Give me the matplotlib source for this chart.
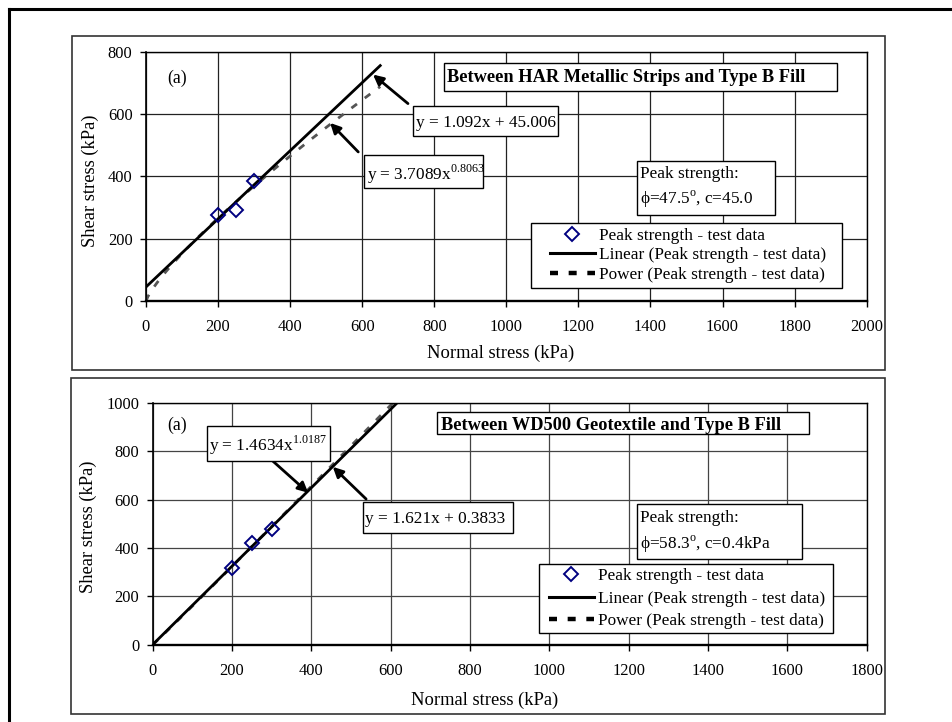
import numpy as np
import matplotlib
matplotlib.use("Agg")
import matplotlib.pyplot as plt
from matplotlib.patches import Rectangle
from matplotlib.lines import Line2D

plt.rcParams['font.family'] = ['Liberation Serif', 'DejaVu Serif']
plt.rcParams['mathtext.fontset'] = 'custom'
plt.rcParams['mathtext.rm'] = 'Liberation Serif'

W, H = 952, 722

# peak strength test data
har_normal = [200, 250, 300]
har_shear = [276, 293, 385]
wd_normal = [200, 250, 300]
wd_shear = [318, 419, 480]

# trendlines as printed on the chart
har_lin = (1.092, 45.006)     # y = a*x + b
har_pow = (3.7089, 0.8063)    # y = a*x^b
wd_lin = (1.621, 0.3833)
wd_pow = (1.4634, 1.0187)
trend_x = np.linspace(0, 650, 131)

series_labels = ['Peak strength - test data',
                 'Linear (Peak strength - test data)',
                 'Power (Peak strength - test data)']

FS = 12.4      # text size
TFS = 11.8     # tick label size
LFS = 13.3     # axis label size

fig = plt.figure(figsize=(W/100, H/100), dpi=100)


def fx(px):
    return px / W


def fy(py):
    return 1 - py / H


def box(ax, x0, y0, x1, y1):
    r = Rectangle((fx(x0), fy(y1)), (x1 - x0)/W, (y1 - y0)/H, transform=fig.transFigure,
                  fc='white', ec='black', lw=1.0, clip_on=False, zorder=4)
    ax.add_artist(r)


def note(ax, px, py, s, **kw):
    kw.setdefault('fontsize', FS)
    ax.text(fx(px), fy(py), s, transform=fig.transFigure, zorder=5, clip_on=False, **kw)


def arrow(ax, tail, tip):
    ax.annotate('', xy=tip, xytext=tail,
                arrowprops=dict(arrowstyle='-|>', color='black', lw=2.0,
                                mutation_scale=15, shrinkA=0, shrinkB=0))


def panel(l, t, r, b, normal, shear, lin, pw, xmax, ymax, gridc):
    ax = fig.add_axes([fx(l), fy(b), (r - l)/W, (b - t)/H])
    ax.plot(trend_x, pw[0]*trend_x**pw[1], color='#555555', lw=2, ls='--',
            dashes=(2.5, 3.5), zorder=2)
    ax.plot(trend_x, lin[0]*trend_x + lin[1], color='black', lw=2, zorder=3)
    ax.plot(normal, shear, ls='none', marker='D', mfc='none', mec='#000080',
            ms=7, mew=1.4, zorder=3.5)
    ax.set_xlim(0, xmax)
    ax.set_ylim(0, ymax)
    ax.set_xticks(np.arange(0, xmax + 1, 200))
    ax.set_yticks(np.arange(0, ymax + 1, 200))
    ax.grid(True, color=gridc, lw=0.9)
    ax.set_axisbelow(True)
    ax.tick_params(direction='out', length=4.2, width=1, labelsize=TFS, colors='black')
    ax.tick_params(axis='x', pad=9)
    ax.tick_params(axis='y', pad=5.5)
    ax.spines['bottom'].set_linewidth(1.7)
    ax.spines['left'].set_linewidth(1.2)
    ax.spines['top'].set_linewidth(1.0)
    ax.spines['right'].set_linewidth(1.0)
    ax.set_xlabel('Normal stress (kPa)', fontsize=LFS, va='baseline')
    ax.set_ylabel('Shear stress (kPa)', fontsize=LFS, va='center')
    return ax


def legend(ax, px, py, spacing):
    handles = [Line2D([], [], ls='none', marker='D', mfc='none', mec='#000080', ms=7, mew=1.4),
               Line2D([], [], color='black', lw=2.2),
               Line2D([], [], color='black', lw=3.2, ls='--', dashes=(1.8, 2.4))]
    leg = ax.legend(handles, series_labels, loc='upper left',
                    bbox_to_anchor=(fx(px), fy(py)), bbox_transform=fig.transFigure,
                    frameon=False, borderpad=0, borderaxespad=0, fontsize=FS,
                    handlelength=2.6, handletextpad=0.25, labelspacing=spacing)
    leg.set_zorder(6)


# outer frame and panel frames
fig.add_artist(Line2D([fx(9), fx(9)], [fy(9), 0], color='black', lw=2.2))
fig.add_artist(Line2D([fx(9), 1], [fy(9), fy(9)], color='black', lw=2.2))
fig.add_artist(Rectangle((fx(72), fy(369.5)), (885 - 72)/W, (369.5 - 36)/H,
                         transform=fig.transFigure, fill=False, ec='#333333', lw=1.2))
fig.add_artist(Rectangle((fx(71), fy(714)), (885 - 71)/W, (714 - 378)/H,
                         transform=fig.transFigure, fill=False, ec='#333333', lw=1.2))

# ---- top panel: HAR metallic strips
ax1 = panel(146, 51.5, 866.7, 301, har_normal, har_shear, har_lin, har_pow, 2000, 800, '#222222')
ax1.xaxis.set_label_coords((501 - 146)/720.7, (301 - 358)/249.5)
ax1.yaxis.set_label_coords((90 - 146)/720.7, (301 - 180.5)/249.5)
note(ax1, 177, 78, '(a)', ha='center', va='center', fontsize=12.8)
box(ax1, 444, 63, 837, 91)
note(ax1, 447, 82, 'Between HAR Metallic Strips and Type B Fill', fontsize=13.2,
     fontweight='bold', va='baseline')
box(ax1, 413, 106, 558, 136)
note(ax1, 416, 127, 'y = 1.092x + 45.006', va='baseline')
box(ax1, 364, 155, 483, 188)
note(ax1, 367, 180, r'y = 3.7089x$^{\mathrm{0.8063}}$', va='baseline')
box(ax1, 637, 161, 775, 215)
note(ax1, 640, 178, 'Peak strength:', va='baseline')
note(ax1, 640, 204, r'ϕ=47.5$^{\mathrm{o}}$, c=45.0', va='baseline')
box(ax1, 531, 223, 842, 288)
legend(ax1, 550, 227.5, 0.22)
arrow(ax1, (727, 633), (630, 726))
arrow(ax1, (589, 478), (511, 571))

# ---- bottom panel: WD500 geotextile
ax2 = panel(152.7, 402.7, 866.7, 644.7, wd_normal, wd_shear, wd_lin, wd_pow, 1800, 1000, '#444444')
ax2.xaxis.set_label_coords((485 - 152.7)/714, (644.7 - 705)/242)
ax2.yaxis.set_label_coords((88.3 - 152.7)/714, (644.7 - 527)/242)
note(ax2, 177, 425, '(a)', ha='center', va='center', fontsize=12.8)
box(ax2, 437, 412, 809, 434)
note(ax2, 441, 430, 'Between WD500 Geotextile and Type B Fill', fontsize=13.2,
     fontweight='bold', va='baseline')
box(ax2, 207, 426, 330, 461)
note(ax2, 209, 451, r'y = 1.4634x$^{\mathrm{1.0187}}$', va='baseline')
box(ax2, 362.7, 502, 513, 533)
note(ax2, 365, 523.3, 'y = 1.621x + 0.3833', va='baseline')
box(ax2, 637, 504, 802, 559)
note(ax2, 640, 522.3, 'Peak strength:', va='baseline')
note(ax2, 640, 548.3, r'ϕ=58.3$^{\mathrm{o}}$, c=0.4kPa', va='baseline')
box(ax2, 539, 564, 833, 633)
legend(ax2, 549, 568, 0.38)
arrow(ax2, (302, 760), (392, 628))
arrow(ax2, (538, 602), (454, 735))

fig.savefig('out.png', dpi=100)
